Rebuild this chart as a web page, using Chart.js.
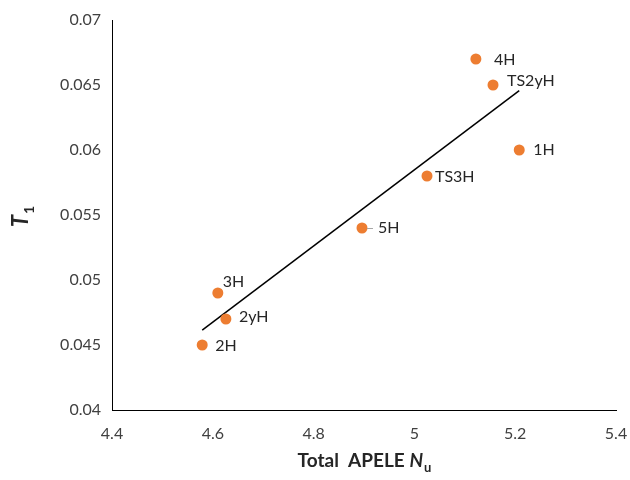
<!DOCTYPE html>
<html>
<head>
<meta charset="utf-8">
<script src="https://cdn.jsdelivr.net/npm/chart.js@4"></script>
<style>
  html, body { margin: 0; padding: 0; background: #fff; }
</style>
</head>
<body>
<canvas id="apeleChart" width="630" height="480"></canvas>
<script>
// data
const pointNames = ["4H", "TS2yH", "1H", "TS3H", "5H", "3H", "2yH", "2H"];
const apeleValues = [5.122, 5.156, 5.208, 5.025, 4.896, 4.610, 4.626, 4.579];
const t1Values = [0.067, 0.065, 0.060, 0.058, 0.054, 0.049, 0.047, 0.045];
const xTicks = [4.4, 4.6, 4.8, 5, 5.2, 5.4];
const yTicks = [0.04, 0.045, 0.05, 0.055, 0.06, 0.065, 0.07];

const FONT = "Lato, 'Open Sans', sans-serif";

// linear trendline (least squares) over the points
const n = apeleValues.length;
const mx = apeleValues.reduce((a, b) => a + b, 0) / n;
const my = t1Values.reduce((a, b) => a + b, 0) / n;
let sxy = 0, sxx = 0;
for (let i = 0; i < n; i++) {
  sxy += (apeleValues[i] - mx) * (t1Values[i] - my);
  sxx += (apeleValues[i] - mx) * (apeleValues[i] - mx);
}
const slope = sxy / sxx;
const x0 = Math.min(...apeleValues), x1 = Math.max(...apeleValues);
const trendPoints = [
  { x: x0, y: my + slope * (x0 - mx) },
  { x: x1, y: my + slope * (x1 - mx) }
];

// label placement next to each point (px)
const labelOffsets = {
  "4H": [18, 1], "TS2yH": [14, -4], "1H": [14, 0], "TS3H": [8, 1],
  "5H": [16, 0], "3H": [5, -11], "2yH": [13, -2], "2H": [13, 1]
};

const pointLabels = {
  id: "pointLabels",
  afterDatasetsDraw(chart) {
    const ctx = chart.ctx;
    const meta = chart.getDatasetMeta(0);
    ctx.save();
    ctx.font = "16px " + FONT;
    ctx.fillStyle = "#262626";
    ctx.textBaseline = "middle";
    ctx.textAlign = "left";
    meta.data.forEach((pt, i) => {
      const name = pointNames[i];
      const off = labelOffsets[name] || [10, 0];
      if (name === "5H") {
        ctx.strokeStyle = "#a6a6a6";
        ctx.lineWidth = 1;
        ctx.beginPath();
        ctx.moveTo(pt.x + 5, pt.y + 0.5);
        ctx.lineTo(pt.x + 11, pt.y + 0.5);
        ctx.stroke();
      }
      ctx.fillText(name, pt.x + off[0], pt.y + off[1]);
    });
    ctx.restore();
  }
};

const axisTitles = {
  id: "axisTitles",
  afterDraw(chart) {
    const ctx = chart.ctx;
    const area = chart.chartArea;
    ctx.save();
    ctx.fillStyle = "#262626";
    ctx.textBaseline = "alphabetic";
    ctx.textAlign = "left";

    // x title: Total  APELE N_u
    const a = "Total  APELE ";
    ctx.font = "bold 19px " + FONT;
    const wa = ctx.measureText(a).width;
    ctx.font = "italic bold 19px " + FONT;
    const wn = ctx.measureText("N").width;
    ctx.font = "bold 13px " + FONT;
    const wu = ctx.measureText("u").width;
    let x = (area.left + area.right) / 2 - (wa + wn + wu) / 2;
    const by = 467;
    ctx.font = "bold 19px " + FONT;
    ctx.fillText(a, x, by);
    x += wa;
    ctx.font = "italic bold 19px " + FONT;
    ctx.fillText("N", x, by);
    x += wn;
    ctx.font = "bold 13px " + FONT;
    ctx.fillText("u", x + 1, by + 5);

    // y title: T_1
    ctx.translate(28, (area.top + area.bottom) / 2 + 2);
    ctx.rotate(-Math.PI / 2);
    ctx.font = "italic bold 22px " + FONT;
    const wt = ctx.measureText("T").width;
    ctx.font = "bold 14px " + FONT;
    const w1 = ctx.measureText("1").width;
    let tx = -(wt + w1) / 2;
    ctx.font = "italic bold 22px " + FONT;
    ctx.fillText("T", tx, 0);
    ctx.font = "bold 14px " + FONT;
    ctx.fillText("1", tx + wt + 1, 6);
    ctx.restore();
  }
};

new Chart(document.getElementById("apeleChart").getContext("2d"), {
  type: "scatter",
  data: {
    datasets: [{
      label: "T1",
      data: apeleValues.map((v, i) => ({ x: v, y: t1Values[i] })),
      backgroundColor: "#ed7d31",
      borderWidth: 0,
      pointRadius: 5.5,
      pointHoverRadius: 5.5
    }, {
      label: "Trend",
      type: "line",
      data: trendPoints,
      borderColor: "#000000",
      borderWidth: 1.5,
      pointRadius: 0,
      fill: false
    }]
  },
  options: {
    responsive: false,
    animation: false,
    layout: { padding: { top: 20, right: 14, bottom: 0, left: 0 } },
    plugins: {
      legend: { display: false },
      tooltip: { enabled: false }
    },
    scales: {
      x: {
        type: "linear",
        min: 4.4,
        max: 5.4,
        afterBuildTicks: (scale) => { scale.ticks = xTicks.map(v => ({ value: v })); },
        afterFit: (scale) => {
          scale.height = 70;
          scale.paddingLeft = 0;
          scale.paddingRight = 0;
        },
        ticks: {
          padding: 14,
          color: "#404040",
          font: { family: FONT, size: 16 },
          callback: (v) => String(v)
        },
        grid: { drawOnChartArea: false, drawTicks: false },
        border: { display: true, color: "#000000", width: 1 }
      },
      y: {
        type: "linear",
        min: 0.04,
        max: 0.07,
        afterBuildTicks: (scale) => { scale.ticks = yTicks.map(v => ({ value: v })); },
        afterFit: (scale) => {
          scale.width = 112;
          scale.paddingTop = 0;
          scale.paddingBottom = 0;
        },
        ticks: {
          padding: 11,
          color: "#404040",
          font: { family: FONT, size: 16 },
          callback: (v) => String(v)
        },
        grid: { drawOnChartArea: false, drawTicks: false },
        border: { display: true, color: "#000000", width: 1 }
      }
    }
  },
  plugins: [pointLabels, axisTitles]
});
</script>
</body>
</html>
